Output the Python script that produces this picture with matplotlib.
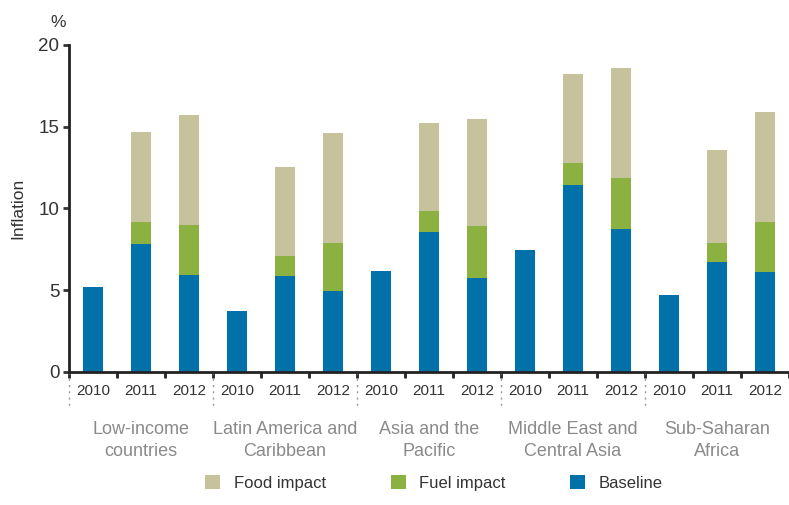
import matplotlib

matplotlib.use("Agg")
import matplotlib.pyplot as plt  # noqa: E402
import numpy as np  # noqa: E402

plt.rcParams["font.family"] = ["Liberation Sans", "DejaVu Sans"]

# data (percent)
regions = [
    "Low-income\ncountries",
    "Latin America and\nCaribbean",
    "Asia and the\nPacific",
    "Middle East and\nCentral Asia",
    "Sub-Saharan\nAfrica",
]
years = ["2010", "2011", "2012"]

baseline = [
    [5.2, 7.85, 5.95],
    [3.7, 5.9, 4.95],
    [6.15, 8.55, 5.75],
    [7.45, 11.45, 8.75],
    [4.7, 6.7, 6.1],
]
fuel_impact = [
    [0, 1.35, 3.05],
    [0, 1.2, 2.95],
    [0, 1.3, 3.15],
    [0, 1.3, 3.1],
    [0, 1.2, 3.05],
]
food_impact = [
    [0, 5.5, 6.7],
    [0, 5.45, 6.7],
    [0, 5.4, 6.6],
    [0, 5.45, 6.75],
    [0, 5.7, 6.75],
]

COL_BASE = "#0071a9"
COL_FUEL = "#8bb140"
COL_FOOD = "#c5c29c"
DARK = "#333333"
GREY = "#8a8a8a"

base = np.array(baseline).ravel()
fuel = np.array(fuel_impact).ravel()
food = np.array(food_impact).ravel()
n = len(base)
x = np.arange(n) + 0.5
width = 0.41

fig = plt.figure(figsize=(7.89, 5.05), dpi=100)
ax = fig.add_axes([0.0875, 0.2634, 0.9125, 0.6476])

b1 = ax.bar(x, base, width, color=COL_BASE, label="Baseline")
b2 = ax.bar(x, fuel, width, bottom=base, color=COL_FUEL, label="Fuel impact")
b3 = ax.bar(x, food, width, bottom=base + fuel, color=COL_FOOD, label="Food impact")

ax.set_xlim(0, 14.83)
ax.set_ylim(0, 20)
ax.set_yticks([0, 5, 10, 15, 20])
ax.tick_params(axis="y", labelsize=13.5, colors=DARK, length=4, width=2, pad=3)
ax.set_ylabel("Inflation", fontsize=12.5, color=DARK, labelpad=9)
ax.text(-0.005, 1.055, "%", transform=ax.transAxes, fontsize=12.5, color=DARK, ha="right")

# slot boundaries as major ticks, years as minor tick labels
ax.set_xticks(np.arange(0, n + 1))
ax.set_xticklabels([])
ax.tick_params(axis="x", which="major", length=4, width=2, color="#222222")
ax.set_xticks(x, minor=True)
ax.set_xticklabels(years * len(regions), minor=True)
ax.tick_params(axis="x", which="minor", length=0, pad=9, labelsize=11, labelcolor=DARK)

for side in ["top", "right"]:
    ax.spines[side].set_visible(False)
ax.spines["left"].set_linewidth(2)
ax.spines["left"].set_color("#222222")
ax.spines["bottom"].set_linewidth(2)
ax.spines["bottom"].set_color("#222222")

# dotted group separators and region labels
trans = ax.get_xaxis_transform()
for i, name in enumerate(regions):
    ax.plot([3 * i, 3 * i], [0, -0.107], transform=trans, clip_on=False,
            color="#999999", linestyle=(0, (1.5, 3)), linewidth=1)
    ax.text(3 * i + 1.5, -0.21, name, transform=trans, ha="center", va="center",
            fontsize=13, color=GREY, linespacing=1.35)

fig.legend(handles=[b3, b2, b1], loc="center", bbox_to_anchor=(0.55, 0.044),
           ncol=3, frameon=False, fontsize=12, handlelength=0.9, handleheight=0.9,
           handletextpad=0.8, columnspacing=3.9, labelcolor=DARK)

fig.savefig("out.png", dpi=100)
